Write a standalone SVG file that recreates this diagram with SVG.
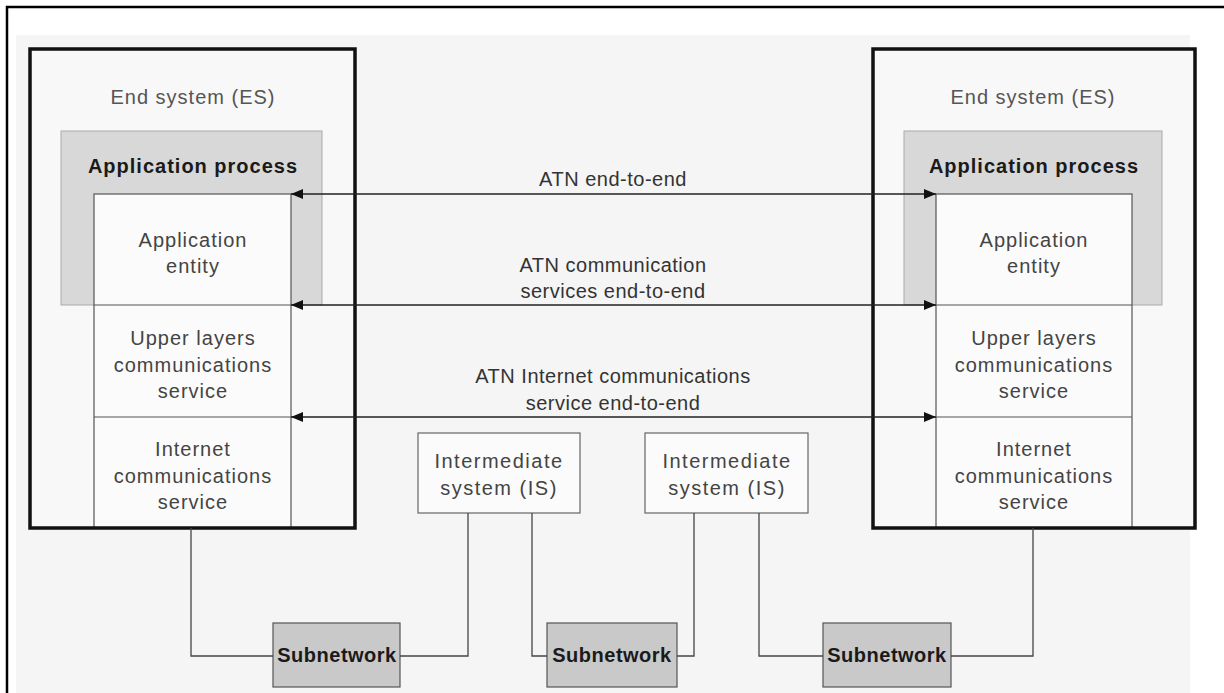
<svg xmlns="http://www.w3.org/2000/svg" width="1224" height="693" viewBox="0 0 1224 693">
<style>
  text { font-family: "Liberation Sans", Arial, sans-serif; font-size: 20px; letter-spacing: 1px; text-anchor: middle; }
  .es { fill: #555; }
  .reg { fill: #444; }
  .isx { fill: #444; letter-spacing: 1.5px; }
  .lbl { fill: #333; letter-spacing: 0.5px; }
  .bold { font-weight: bold; fill: #1a1a1a; }
  .sub { font-weight: bold; fill: #1a1a1a; letter-spacing: 0.5px; }
  .esbox { fill: none; stroke: #111; stroke-width: 3.5; }
  .ap { fill: #d8d8d8; stroke: #aaa; stroke-width: 1; }
  .col { fill: #fbfbfb; stroke: #555; stroke-width: 1.2; }
  .is { fill: #fbfbfb; stroke: #666; stroke-width: 1.2; }
  .sn { fill: #c9c9c9; stroke: #555; stroke-width: 1.2; }
  .wire { fill: none; stroke: #444; stroke-width: 1.3; }
  .arr { fill: none; stroke: #222; stroke-width: 1.5; marker-start: url(#ah); marker-end: url(#ah); }
</style>
<defs>
  <marker id="ah" viewBox="0 0 12 10" refX="12" refY="5" markerWidth="12" markerHeight="10" markerUnits="userSpaceOnUse" orient="auto-start-reverse">
    <path d="M0,0 L12,5 L0,10 Z" fill="#111"/>
  </marker>
</defs>

<rect x="0" y="0" width="1224" height="693" fill="#ffffff"/>
<rect x="16" y="35" width="1174" height="658" fill="#f5f5f5"/>
<path d="M7,693 V7 H1224" fill="none" stroke="#000" stroke-width="2.5"/>

<g id="es-left">
  <rect x="30" y="49" width="325" height="479" fill="#f8f8f8"/>
  <rect x="61" y="131" width="261" height="174" class="ap"/>
  <rect x="94" y="194" width="197" height="334" class="col"/>
  <line x1="94" y1="305" x2="291" y2="305" stroke="#555" stroke-width="1.2"/>
  <line x1="94" y1="417" x2="291" y2="417" stroke="#555" stroke-width="1.2"/>
  <rect x="30" y="49" width="325" height="479" class="esbox"/>
  <text x="193" y="104" class="es">End system (ES)</text>
  <text x="193" y="173" class="bold">Application process</text>
  <text x="193" y="247" class="reg">Application</text>
  <text x="193" y="273" class="reg">entity</text>
  <text x="193" y="345" class="reg">Upper layers</text>
  <text x="193" y="372" class="reg">communications</text>
  <text x="193" y="398" class="reg">service</text>
  <text x="193" y="456" class="reg">Internet</text>
  <text x="193" y="483" class="reg">communications</text>
  <text x="193" y="509" class="reg">service</text>
</g>

<g id="es-right">
  <rect x="873" y="49" width="322" height="479" fill="#f8f8f8"/>
  <rect x="904" y="131" width="258" height="174" class="ap"/>
  <rect x="936" y="194" width="196" height="334" class="col"/>
  <line x1="936" y1="305" x2="1132" y2="305" stroke="#555" stroke-width="1.2"/>
  <line x1="936" y1="417" x2="1132" y2="417" stroke="#555" stroke-width="1.2"/>
  <rect x="873" y="49" width="322" height="479" class="esbox"/>
  <text x="1033" y="104" class="es">End system (ES)</text>
  <text x="1034" y="173" class="bold">Application process</text>
  <text x="1034" y="247" class="reg">Application</text>
  <text x="1034" y="273" class="reg">entity</text>
  <text x="1034" y="345" class="reg">Upper layers</text>
  <text x="1034" y="372" class="reg">communications</text>
  <text x="1034" y="398" class="reg">service</text>
  <text x="1034" y="456" class="reg">Internet</text>
  <text x="1034" y="483" class="reg">communications</text>
  <text x="1034" y="509" class="reg">service</text>
</g>

<g id="is-1">
  <rect x="418" y="433" width="162" height="80" class="is"/>
  <text x="499" y="468" class="isx">Intermediate</text>
  <text x="499" y="495" class="isx">system (IS)</text>
</g>
<g id="is-2">
  <rect x="645" y="433" width="163" height="80" class="is"/>
  <text x="727" y="468" class="isx">Intermediate</text>
  <text x="727" y="495" class="isx">system (IS)</text>
</g>

<g id="subnet-1">
  <rect x="273" y="623" width="127" height="64" class="sn"/>
  <text x="337" y="662" class="sub">Subnetwork</text>
</g>
<g id="subnet-2">
  <rect x="547" y="623" width="130" height="64" class="sn"/>
  <text x="612" y="662" class="sub">Subnetwork</text>
</g>
<g id="subnet-3">
  <rect x="823" y="623" width="128" height="64" class="sn"/>
  <text x="887" y="662" class="sub">Subnetwork</text>
</g>

<g id="connectors">
  <line x1="291" y1="194" x2="936" y2="194" class="arr"/>
  <line x1="291" y1="305" x2="936" y2="305" class="arr"/>
  <line x1="291" y1="417" x2="936" y2="417" class="arr"/>
  <text x="613" y="186" class="lbl">ATN end-to-end</text>
  <text x="613" y="272" class="lbl">ATN communication</text>
  <text x="613" y="298" class="lbl">services end-to-end</text>
  <text x="613" y="383" class="lbl">ATN Internet communications</text>
  <text x="613" y="410" class="lbl">service end-to-end</text>
  <polyline points="191,528 191,656 273,656" class="wire"/>
  <polyline points="468,513 468,656 400,656" class="wire"/>
  <polyline points="532,513 532,656 547,656" class="wire"/>
  <polyline points="694,513 694,656 677,656" class="wire"/>
  <polyline points="759,513 759,656 823,656" class="wire"/>
  <polyline points="1033,528 1033,656 951,656" class="wire"/>
</g>
</svg>
